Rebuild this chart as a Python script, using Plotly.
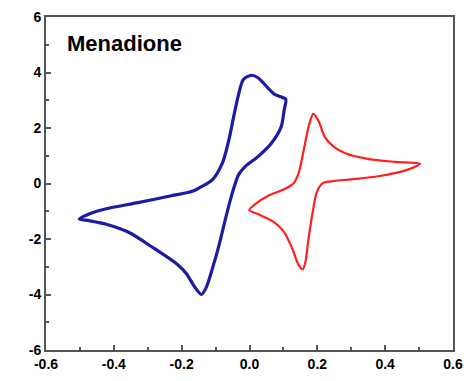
import plotly.graph_objects as go

# Blue (menadione, first couple) potential (V) and current
blue_x = [0.107, 0.097, 0.073, 0.054, 0.025, 0.006, -0.018, -0.032, -0.047, -0.061, -0.080, -0.109, -0.147,
          -0.166, -0.234, -0.329, -0.425, -0.473, -0.502, -0.473, -0.425, -0.358, -0.281, -0.214, -0.186,
          -0.162, -0.142, -0.128, -0.109, -0.090, -0.071, -0.056, -0.042, -0.032, -0.013, 0.025, 0.064,
          0.093, 0.102, 0.107]
blue_y = [3.04, 3.10, 3.22, 3.45, 3.81, 3.90, 3.75, 3.22, 2.39, 1.56, 0.73, 0.14, -0.15,
          -0.27, -0.45, -0.69, -0.92, -1.10, -1.28, -1.34, -1.46, -1.75, -2.34, -2.90, -3.25,
          -3.72, -4.00, -3.76, -3.05, -2.23, -1.28, -0.57, 0.00, 0.32, 0.61, 0.97, 1.44,
          2.03, 2.63, 3.04]

# Red (second couple)
red_x = [-0.001, 0.016, 0.054, 0.102, 0.131, 0.145, 0.160, 0.174, 0.188, 0.203, 0.222, 0.246,
         0.284, 0.352, 0.428, 0.503, 0.467, 0.380, 0.300, 0.250, 0.217, 0.198, 0.188, 0.174,
         0.165, 0.157, 0.145, 0.126, 0.102, 0.073, 0.025, -0.001]
red_y = [-0.96, -0.75, -0.45, -0.21, 0.02, 0.38, 1.21, 2.03, 2.51, 2.27, 1.68, 1.35,
         1.08, 0.88, 0.78, 0.71, 0.50, 0.26, 0.15, 0.09, 0.02, -0.33, -0.92, -1.99,
         -2.82, -3.09, -2.94, -2.34, -1.75, -1.40, -1.10, -0.96]

x_ticks = [-0.6, -0.4, -0.2, 0.0, 0.2, 0.4, 0.6]
x_labels = ["-0.6", "-0.4", "-0.2", "0.0", "0.2", "0.4", "0.6"]
y_ticks = [-6, -4, -2, 0, 2, 4, 6]
y_labels = ["-6", "-4", "-2", "0", "2", "4", "6"]

title_text = "Menadione"

fig = go.Figure()
fig.add_trace(go.Scatter(x=blue_x, y=blue_y, mode="lines",
                         line=dict(color="#1c1ca3", width=3.2, shape="spline", smoothing=0.8),
                         showlegend=False))
fig.add_trace(go.Scatter(x=red_x, y=red_y, mode="lines",
                         line=dict(color="#ff1f1f", width=2.2, shape="spline", smoothing=0.8),
                         showlegend=False))

axis_font = dict(family="Liberation Sans, Arial, sans-serif", size=14, color="black")
fig.update_xaxes(range=[-0.6, 0.6], tickvals=x_ticks, ticktext=["<b>%s</b>" % t for t in x_labels],
                 showline=True, linecolor="#555555", linewidth=2, mirror=True,
                 ticks="inside", ticklen=5, tickcolor="#555555", tickwidth=1.5,
                 minor=dict(dtick=0.1, tick0=-0.6, ticks="inside", ticklen=3, tickcolor="#555555", tickwidth=1.5),
                 showgrid=False, zeroline=False, tickfont=axis_font)
fig.update_yaxes(range=[-6, 6], tickvals=y_ticks, ticktext=["<b>%s</b>" % t for t in y_labels],
                 showline=True, linecolor="#555555", linewidth=2, mirror=True,
                 ticks="inside", ticklen=5, tickcolor="#555555", tickwidth=1.5,
                 minor=dict(dtick=1, tick0=-6, ticks="inside", ticklen=3, tickcolor="#555555", tickwidth=1.5),
                 showgrid=False, zeroline=False, tickfont=axis_font)

fig.add_annotation(text="<b>%s</b>" % title_text, xref="paper", yref="paper",
                   x=0.046, y=0.92, xanchor="left", yanchor="middle", showarrow=False,
                   font=dict(family="Liberation Sans, Arial, sans-serif", size=22, color="black"))

fig.update_layout(width=472, height=381, margin=dict(l=46, r=9, t=15, b=28),
                  plot_bgcolor="white", paper_bgcolor="white")

fig.write_html("out.html")
